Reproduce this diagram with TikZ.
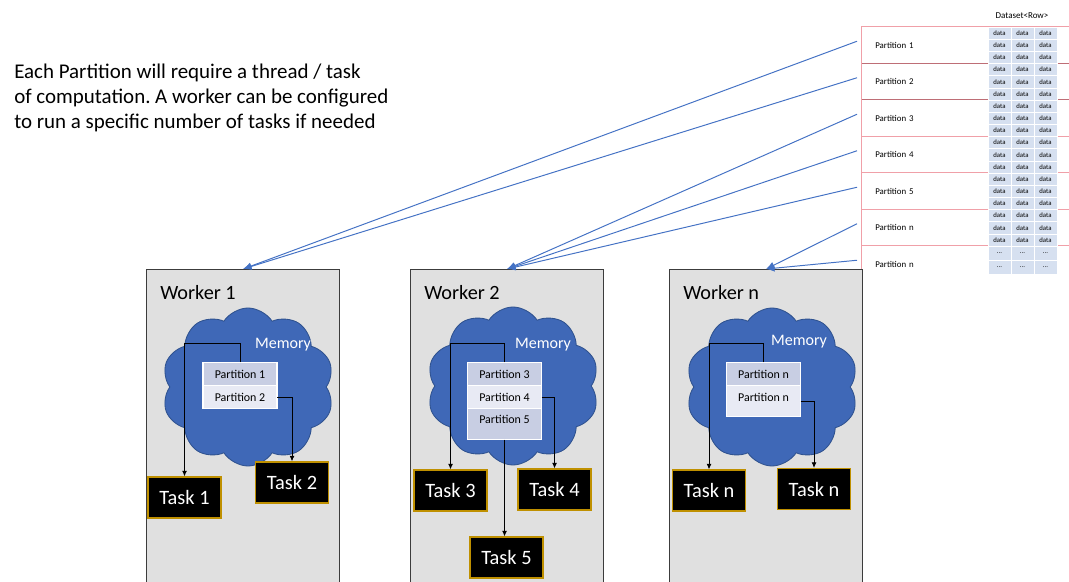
\documentclass[tikz,border=0pt]{standalone}
\usepackage{fontspec}
\setmainfont{Carlito}
\usetikzlibrary{arrows.meta, positioning, shapes.symbols, calc}
\frenchspacing

\definecolor{workerfill}{RGB}{224,224,224}
\definecolor{workerline}{RGB}{60,60,60}
\definecolor{cloudblue}{RGB}{63,104,183}
\definecolor{cloudedge}{RGB}{47,82,143}
\definecolor{partdark}{RGB}{200,206,227}
\definecolor{partlight}{RGB}{232,234,244}
\definecolor{taskedge}{RGB}{191,144,0}
\definecolor{feedblue}{RGB}{68,114,196}
\definecolor{rowpink}{RGB}{240,160,168}
\definecolor{rowdark}{RGB}{190,110,118}
\definecolor{cellfill}{RGB}{214,224,240}

\begin{document}
\begin{tikzpicture}[
            x=0.025cm, y=-0.025cm,
            >=Latex,
            % Caixa de cada worker
            worker/.style={
                draw=workerline,
                fill=workerfill,
                rectangle,
                anchor=north west,
                minimum width=4.825cm,
                minimum height=8.2cm,
                line width=0.8pt
            },
            wlabel/.style={anchor=west, inner sep=0, font=\fontsize{14.4}{17}\selectfont},
            % Nuvem de memoria
            memcloud/.style={
                cloud, cloud puffs=10, cloud puff arc=115, aspect=1.1,
                fill=cloudblue, draw=cloudedge, line width=0.6pt,
                minimum width=4.3cm, minimum height=3.95cm
            },
            memtext/.style={text=white, font=\fontsize{11.4}{13}\selectfont},
            % Particoes dentro da memoria
            part/.style={
                rectangle, draw=white, line width=0.8pt,
                minimum width=1.85cm, minimum height=0.575cm,
                inner sep=0, outer sep=0,
                font=\fontsize{8.5}{10}\selectfont
            },
            pdark/.style={part, fill=partdark},
            plight/.style={part, fill=partlight},
            % Tarefas
            task/.style={
                rectangle, fill=black, draw=taskedge, line width=0.8pt,
                text=white, minimum width=1.825cm, minimum height=1.025cm,
                font=\fontsize{14.5}{17}\selectfont
            },
            % Tabela do dataset
            tablerow/.style={
                rectangle, anchor=west, text width=4.5cm, align=left,
                inner xsep=0.35cm, inner ysep=0, minimum height=0.9125cm,
                font=\fontsize{6.3}{8}\selectfont
            },
            datacell/.style={
                rectangle, fill=cellfill, draw=white, line width=0.5pt,
                minimum width=0.575cm, minimum height=0.304cm, inner sep=0,
                font=\fontsize{4.8}{5}\selectfont
            },
            dotcell/.style={datacell, minimum height=0.35cm},
            rowline/.style={line width=0.6pt},
            % Setas
            flow/.style={draw=black, ->, >={Latex[length=4pt,width=3.5pt]}, line width=0.6pt},
            feed/.style={draw=feedblue, ->, >={Latex[length=6pt,width=5pt]}, line width=0.7pt}
        ]
\useasboundingbox (0,0) rectangle (1069,582);

% Texto explicativo
\node[anchor=west, align=left, inner sep=0, font=\fontsize{14.9}{17.8}\selectfont] (note) at (14,98)
    {Each Partition will require a thread / task\\ of computation. A worker can be configured\\ to run a specific number of tasks if needed};

% Tabela do dataset
\node[font=\fontsize{6.4}{8}\selectfont] (dataset) at (1022,16) {Dataset<Row>};
\foreach \i/\name/\col in {1/Partition 1/rowpink, 2/Partition 2/rowdark, 3/Partition 3/rowdark,
        4/Partition 4/rowpink, 5/Partition 5/rowpink, 6/Partition n/rowpink, 7/Partition n/rowpink} {
    \node[tablerow] (row\i) at ({861},{27+36.5*(\i-1)+18.25}) {\name};
    \draw[rowline, draw=\col] (row\i.north west) -- (row\i.north east);
}
\draw[rowline, draw=rowpink] (row1.north west) -- (row7.south west);
\foreach \r in {0,...,17}
    \foreach \c in {0,1,2}
        \node[datacell] (d\r-\c) at ({999.5+23*\c},{33.1+12.17*\r}) {data};
\foreach \r in {18,19}
    \foreach \c in {0,1,2}
        \node[dotcell] (d\r-\c) at ({999.5+23*\c},{253+14*(\r-18)}) {...};

% Workers
\node[worker] (worker1) at (146,269) {};
\node[worker] (worker2) at (410,269) {};
\node[worker] (workern) at (669,269) {};
\node[wlabel] (wl1) at ([shift={(14,24)}]worker1.north west) {Worker 1};
\node[wlabel] (wl2) at ([shift={(14,24)}]worker2.north west) {Worker 2};
\node[wlabel] (wln) at ([shift={(14,24)}]workern.north west) {Worker n};

% Memoria de cada worker
\node[memcloud] (cloud1) at (248,387) {};
\node[memcloud] (cloud2) at (513,386) {};
\node[memcloud] (cloudn) at (772,387) {};
\node[memtext] (mem1) at (283,345) {Memory};
\node[memtext] (mem2) at (543,345) {Memory};
\node[memtext] (memn) at (799,342) {Memory};

% Particoes
\node[pdark] (p1a) at (240,374) {Partition 1};
\node[plight, below=0pt of p1a] (p1b) {Partition 2};
\node[pdark] (p2a) at (504.5,374) {Partition 3};
\node[plight, below=0pt of p2a] (p2b) {Partition 4};
\node[pdark, below=0pt of p2b, minimum height=0.775cm, text depth=0.25cm] (p2c) {Partition 5};
\node[pdark] (pna) at (763.5,374) {Partition n};
\node[plight, below=0pt of pna, minimum height=0.775cm, text depth=0.2cm] (pnb) {Partition n};

% Tarefas
\node[task] (task1) at (184.5,497.5) {Task 1};
\node[task] (task2) at (292,482.5) {Task 2};
\node[task] (task3) at (450.5,490.5) {Task 3};
\node[task] (task4) at (554.5,489.5) {Task 4};
\node[task] (task5) at (506.5,557.5) {Task 5};
\node[task] (taskn1) at (709,490.5) {Task n};
\node[task] (taskn2) at (814,489) {Task n};

% Setas particao -> tarefa
\draw[flow] (p1a.north) -- ++(0,-19) -| (task1.north);
\draw[flow] (p1b.east) -| (task2.north);
\draw[flow] (p2a.north) -- ++(0,-19) -| (task3.north);
\draw[flow] (p2b.east) -| (task4.north);
\draw[flow] (p2c.south) -- (p2c.south |- task5.north);
\draw[flow] (pna.north) -- ++(0,-19) -| (taskn1.north);
\draw[flow] (pnb.east) -| (taskn2.north);

% Setas dataset -> worker
\foreach \i/\w in {1/worker1, 2/worker1, 3/worker2, 4/worker2, 5/worker2, 6/workern, 7/workern}
    \draw[feed] ($(row\i.west)+(-4,-4)$) -- (\w.north);

\end{tikzpicture}
\end{document}
